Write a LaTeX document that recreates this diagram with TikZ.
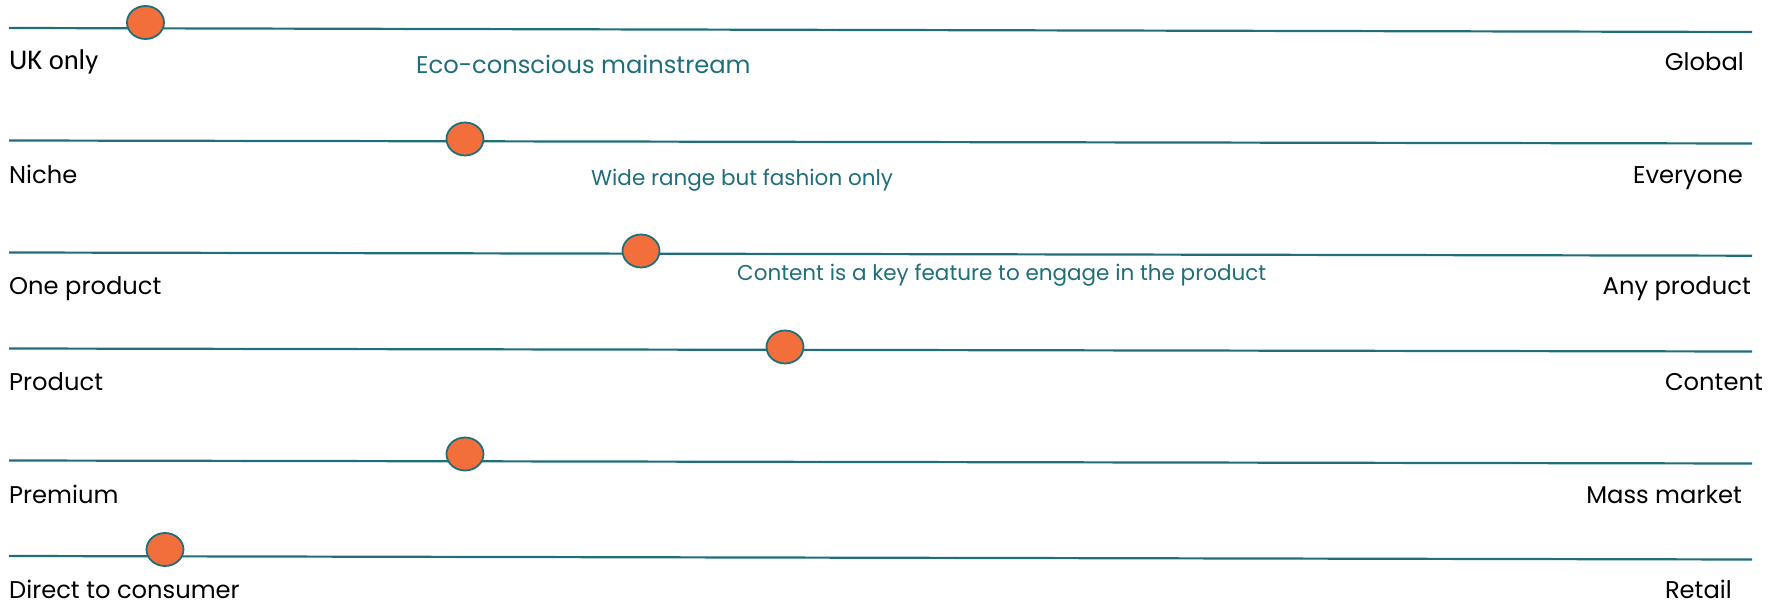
\documentclass[tikz,border=0pt]{standalone}
\usepackage{fontspec}
\setmainfont{Poppins}
\newfontfamily\carlito{Carlito}
\usetikzlibrary{shapes.geometric}
\definecolor{sliderteal}{HTML}{1F6E7B}
\definecolor{knoborange}{HTML}{F26E3A}

\begin{document}
\begin{tikzpicture}[
    x=1pt, y=-1pt,
    track/.style={draw=sliderteal, line width=2.2pt},
    knob/.style={
        ellipse,
        fill=knoborange,
        draw=sliderteal,
        line width=1.8pt,
        minimum width=37pt,
        minimum height=33pt,
        inner sep=0pt
    },
    endlabel/.style={inner sep=0pt, text=black, font=\fontsize{24.2}{28}\selectfont},
    note/.style={inner sep=0pt, text=sliderteal, font=\fontsize{21.5}{25}\selectfont}
]
\useasboundingbox (0,0) rectangle (1783,601);

% tracks with their knobs
\foreach \i/\ya/\yb/\kx/\ky in {
    1/28/32/145.5/22.5,
    2/140.5/143.5/465/139,
    3/252.5/255.7/641/251,
    4/348.5/351.5/785/347,
    5/460.5/463.5/465/454,
    6/556/559.5/165/549.5} {
  \coordinate (l\i) at (9,\ya);
  \coordinate (r\i) at (1752,\yb);
  \draw[track] (l\i) -- (r\i);
  \node[knob] (k\i) at (\kx,\ky) {};
}

% ends of each scale
\node[endlabel, anchor=base west, font=\carlito\fontsize{28.5}{32}\selectfont] (lo1) at (9,70) {UK only};
\node[endlabel, anchor=base east] (hi1) at (1744,71) {Global};
\node[endlabel, anchor=base west] (lo2) at (9,183.5) {Niche};
\node[endlabel, anchor=base east] (hi2) at (1743,183.5) {Everyone};
\node[endlabel, anchor=base west] (lo3) at (9,295) {One product};
\node[endlabel, anchor=base east] (hi3) at (1751,295) {Any product};
\node[endlabel, anchor=base west] (lo4) at (9,390.5) {Product};
\node[endlabel, anchor=base east] (hi4) at (1763,390.5) {Content};
\node[endlabel, anchor=base west] (lo5) at (9,503) {Premium};
\node[endlabel, anchor=base east] (hi5) at (1742,503) {Mass market};
\node[endlabel, anchor=base west] (lo6) at (9,598) {Direct to consumer};
\node[endlabel, anchor=base east] (hi6) at (1732,598) {Retail};

% notes
\node[note, anchor=base west, font=\fontsize{24.2}{28}\selectfont] (n1) at (416,74) {Eco-conscious mainstream};
\node[note, anchor=base west] (n2) at (591,185.5) {Wide range but fashion only};
\node[note, anchor=base west] (n3) at (737,281) {Content is a key feature to engage in the product};
\end{tikzpicture}
\end{document}
